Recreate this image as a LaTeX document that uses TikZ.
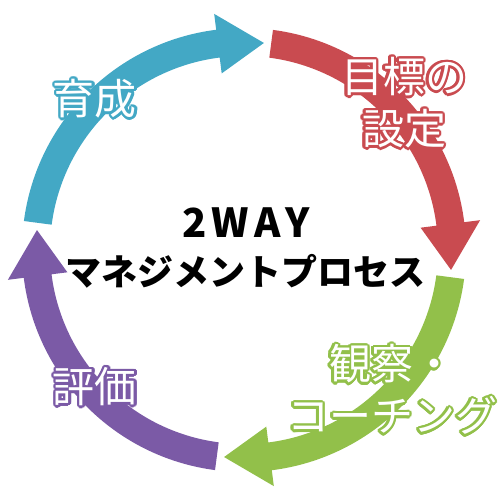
\documentclass[tikz,border=0pt]{standalone}
\usepackage{fontspec}
\usepackage{xcolor}
\usepackage{contour}
\usepackage{tikz}
\usetikzlibrary{calc}
\newfontfamily\jpfont{Noto Sans CJK JP}
\definecolor{cycleblue}{HTML}{43A8C5}
\definecolor{cyclered}{HTML}{C94B50}
\definecolor{cyclegreen}{HTML}{92C04A}
\definecolor{cyclepurple}{HTML}{7B5AA6}
\contourlength{2.5pt}
% fleche courbe : angle de depart, angle de la pointe, couleur
\newcommand{\cyclearrow}[3]{%
  \fill[#3] (#1:222) arc[start angle=#1, end angle={#2+12.7}, radius=222]
    -- ({#2+12.7}:238) -- (#2:208) -- ({#2+12.7}:178) -- ({#2+12.7}:194)
    arc[start angle={#2+12.7}, end angle=#1, radius=194] -- cycle;}
\tikzset{
  cyclelabel/.style={font=\jpfont\fontsize{42}{52}\selectfont, align=center},
  titlelabel/.style={font=\jpfont\bfseries\fontsize{36}{48}\selectfont, align=center}
}
\begin{document}
\begin{tikzpicture}[x=1pt,y=1pt]
    \useasboundingbox (-244,-250) rectangle (256,250);
    % les quatre fleches du cycle, dans le sens horaire
    \cyclearrow{172.5}{84.5}{cycleblue}
    \cyclearrow{82.5}{-5.5}{cyclered}
    \cyclearrow{-7.5}{-95.5}{cyclegreen}
    \cyclearrow{-97.5}{-185.5}{cyclepurple}
    % etiquettes
    \node[cyclelabel] (ikusei) at (-149,150) {\contour{cycleblue}{\textcolor{white}{育成}}};
    \node[cyclelabel] (mokuhyo) at (160,146)
      {\contour{cyclered}{\textcolor{white}{目標の}}\\\contour{cyclered}{\textcolor{white}{設定}}};
    \node[cyclelabel] (kansatsu) at (148,-141)
      {\contour{cyclegreen}{\textcolor{white}{観察・}}\\\contour{cyclegreen}{\textcolor{white}{コーチング}}};
    \node[cyclelabel] (hyoka) at (-149,-138) {\contour{cyclepurple}{\textcolor{white}{評価}}};
    % titre au centre
    \node[titlelabel] (titre) at (2,2)
      {{\fontsize{40}{48}\selectfont 2\hspace{5pt}W\hspace{5pt}A\hspace{5pt}Y}\\マネジメントプロセス};
\end{tikzpicture}
\end{document}
